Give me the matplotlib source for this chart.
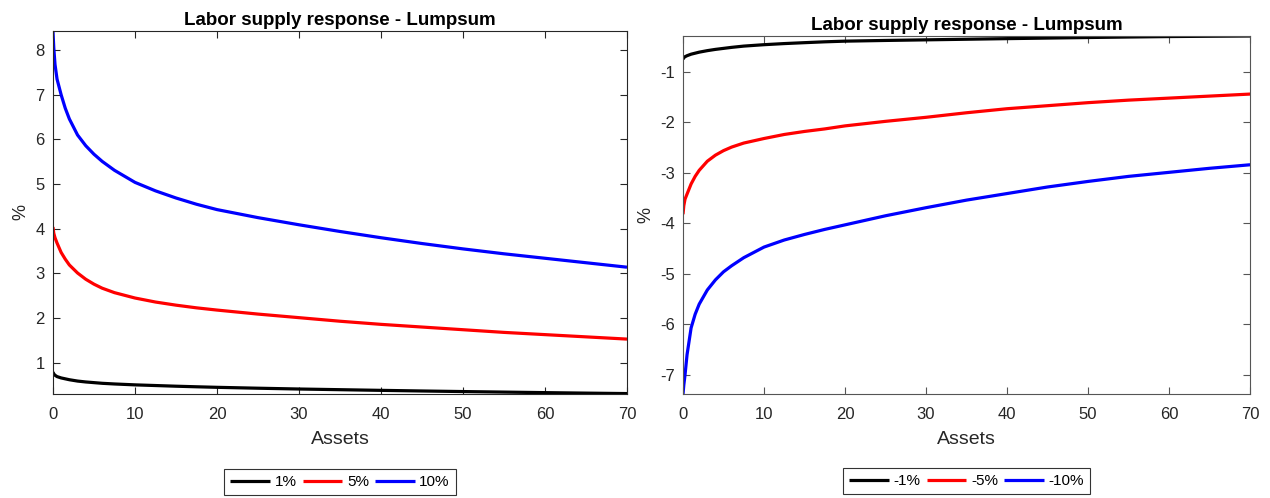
import numpy as np
import matplotlib
matplotlib.use('Agg')
import matplotlib.pyplot as plt

plt.rcParams['font.family'] = ['Liberation Sans', 'DejaVu Sans']
plt.rcParams['axes.unicode_minus'] = False

# -----------------------------------------------------------------------------
# Data
# -----------------------------------------------------------------------------
assets = [0, 0.1, 0.25, 0.5, 1, 1.5, 2, 3, 4, 5, 6, 7.5, 10, 12.5, 15, 17.5,
          20, 25, 30, 35, 40, 45, 50, 55, 60, 65, 70]

# left panel: positive lump-sum shocks
pos_labels = ['1%', '5%', '10%']
pos_1 = [0.79, 0.75, 0.72, 0.69, 0.66, 0.64, 0.62, 0.59, 0.57, 0.555, 0.54,
         0.525, 0.505, 0.49, 0.475, 0.462, 0.45, 0.43, 0.412, 0.397, 0.382, 0.368,
         0.355, 0.343, 0.331, 0.32, 0.31]
pos_5 = [4.04, 3.90, 3.80, 3.68, 3.47, 3.32, 3.19, 3.01, 2.87, 2.76, 2.67,
         2.57, 2.45, 2.36, 2.29, 2.23, 2.18, 2.09, 2.01, 1.93, 1.86, 1.80,
         1.74, 1.68, 1.63, 1.58, 1.53]
pos_10 = [8.43, 8.05, 7.68, 7.35, 7.00, 6.70, 6.46, 6.10, 5.86, 5.67, 5.51,
          5.31, 5.04, 4.85, 4.69, 4.55, 4.43, 4.25, 4.09, 3.94, 3.80, 3.67,
          3.55, 3.44, 3.34, 3.24, 3.14]

# right panel: negative lump-sum shocks
neg_labels = ['-1%', '-5%', '-10%']
neg_1 = [-0.75, -0.72, -0.70, -0.68, -0.65, -0.63, -0.61, -0.58, -0.555, -0.535,
         -0.515, -0.49, -0.462, -0.44, -0.422, -0.405, -0.392, -0.378, -0.366, -0.354,
         -0.342, -0.331, -0.32, -0.31, -0.301, -0.295, -0.29]
neg_5 = [-3.82, -3.65, -3.52, -3.42, -3.22, -3.07, -2.95, -2.77, -2.65, -2.56,
         -2.49, -2.41, -2.32, -2.24, -2.18, -2.13, -2.07, -1.98, -1.90, -1.81,
         -1.73, -1.67, -1.61, -1.56, -1.52, -1.48, -1.44]
neg_10 = [-7.38, -7.20, -7.00, -6.60, -6.07, -5.80, -5.60, -5.32, -5.12, -4.96,
          -4.84, -4.68, -4.47, -4.33, -4.22, -4.12, -4.03, -3.85, -3.69, -3.54,
          -3.41, -3.28, -3.17, -3.07, -2.99, -2.91, -2.84]

renkler = ['black', 'red', 'blue']

# -----------------------------------------------------------------------------
# Figure
# -----------------------------------------------------------------------------
fig = plt.figure(figsize=(12.7, 4.98), dpi=100)
ax1 = fig.add_axes([0.0417, 0.2088, 0.452, 0.729])
ax2 = fig.add_axes([0.5378, 0.2088, 0.4465, 0.7189])

panels = [
    (ax1, [pos_1, pos_5, pos_10], pos_labels, (0.30, 8.43), range(1, 9), '#262626'),
    (ax2, [neg_1, neg_5, neg_10], neg_labels, (-7.38, -0.29), range(-7, 0), '#555555'),
]

for ax, seriler, etiketler, ylim, yticks, eksen_rengi in panels:
    for y, renk, etiket in zip(seriler, renkler, etiketler):
        ax.plot(assets, y, color=renk, linewidth=2.3, label=etiket,
                solid_capstyle='butt')
    ax.set_xlim(0, 70)
    ax.set_ylim(*ylim)
    ax.set_xticks(range(0, 71, 10))
    ax.set_yticks(list(yticks))
    ax.set_title('Labor supply response - Lumpsum', fontsize=13.5,
                 fontweight='bold', pad=4)
    ax.set_xlabel('Assets', fontsize=14, color='#262626', labelpad=7)
    ax.set_ylabel('%', fontsize=13, color='#262626', labelpad=4)
    ax.tick_params(direction='in', top=True, right=True, length=5,
                   width=0.8, labelsize=12, colors='#262626', pad=6)
    ax.tick_params(axis='x', pad=9)
    ax.tick_params(color=eksen_rengi)
    for s in ax.spines.values():
        s.set_color(eksen_rengi)
        s.set_linewidth(0.8)
    leg = ax.legend(loc='center', bbox_to_anchor=(0.5, -0.243), ncol=3,
                    fontsize=11, frameon=True, fancybox=False,
                    handlelength=2.6, handletextpad=0.3, columnspacing=0.4,
                    borderpad=0.4, borderaxespad=0)
    leg.get_frame().set_edgecolor('black')
    leg.get_frame().set_linewidth(0.8)

fig.savefig('out.png', dpi=100)
